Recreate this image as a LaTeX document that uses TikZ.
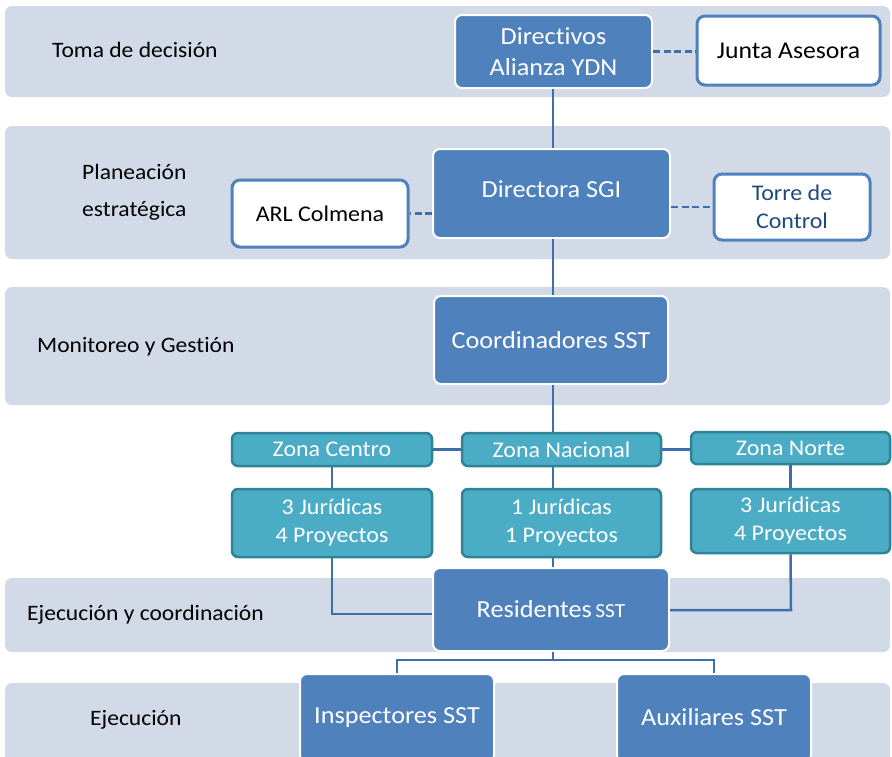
\documentclass[tikz,border=0pt]{standalone}
\usepackage{fontspec}
\setmainfont{Carlito}[FakeStretch=1.07, Ligatures=NoCommon]
\usetikzlibrary{calc}
\definecolor{band}{HTML}{D2D9E7}
\definecolor{dblue}{HTML}{4F81BD}
\definecolor{lblue}{HTML}{3F6FAA}
\definecolor{navy}{HTML}{1F497D}
\definecolor{teal}{HTML}{4BACC6}
\definecolor{tealb}{HTML}{2E8397}
\tikzset{
  bandbox/.style={fill=band, rounded corners=7pt, draw=none},
  bandlabel/.style={anchor=west, font=\fontsize{22}{37}\selectfont, align=left, inner sep=0pt},
  darkbox/.style={fill=dblue, draw=white, line width=2pt, rounded corners=7pt, text=white,
     font=\fontsize{24.5}{31}\selectfont, align=center, inner sep=0pt},
  whitebox/.style={fill=white, draw=dblue, line width=3pt, rounded corners=8pt, text=black,
     font=\fontsize{22.4}{28}\selectfont, align=center, inner sep=0pt},
  tealbox/.style={fill=teal, draw=tealb, line width=2.5pt, rounded corners=6pt, text=white,
     font=\fontsize{22.4}{28}\selectfont, align=center, inner sep=0pt},
  conn/.style={draw=lblue, line width=2.5pt},
  dconn/.style={draw=lblue, line width=2.5pt, dash pattern=on 7pt off 3.5pt},
}
\begin{document}
\begin{tikzpicture}[x=1pt, y=-1pt]
\useasboundingbox (0,0) rectangle (892,756);
\clip (0,0) rectangle (892,756);
% bands
\fill[bandbox] (5,6) rectangle (890,97);
\fill[bandbox] (5,126) rectangle (890,259);
\fill[bandbox] (5,287) rectangle (890,405);
\fill[bandbox] (5,578) rectangle (890,652);
\fill[bandbox] (5,683) rectangle (890,770);
% band labels
\node[bandlabel] (l1) at (52,50) {Toma de decisión};
\node[bandlabel] (l2) at (82,192) {Planeación\\estratégica};
\node[bandlabel] (l3) at (37,347) {Monitoreo y Gestión};
\node[bandlabel] (l4) at (27,615) {Ejecución y coordinación};
\node[bandlabel] (l5) at (90,720) {Ejecución};
% nodes
\node[darkbox, minimum width=197pt, minimum height=73pt] (dir) at (553.5,51.5) {Directivos\\Alianza YDN};
\node[whitebox, minimum width=183pt, minimum height=69pt, font=\fontsize{24}{30}\selectfont] (junta) at (788.5,50.5) {Junta Asesora};
\node[darkbox, minimum width=237pt, minimum height=89pt] (sgi) at (551.5,193.5) {\raisebox{8pt}{Directora SGI}};
\node[whitebox, minimum width=176pt, minimum height=67pt] (arl) at (320,213.5) {ARL Colmena};
\node[whitebox, minimum width=156pt, minimum height=66pt, text=navy] (torre) at (792,207) {Torre de\\Control};
\node[darkbox, minimum width=234pt, minimum height=88pt] (coord) at (551,340) {Coordinadores SST};
\node[tealbox, minimum width=200pt, minimum height=33pt] (zc) at (332,449.5) {Zona Centro};
\node[tealbox, minimum width=199pt, minimum height=33pt] (zn) at (561.5,449.5) {Zona Nacional};
\node[tealbox, minimum width=199pt, minimum height=32pt] (zno) at (790.5,448) {Zona Norte};
\node[tealbox, minimum width=200pt, minimum height=68pt] (jl) at (332,523) {3 Jurídicas\\4 Proyectos};
\node[tealbox, minimum width=199pt, minimum height=68pt] (jm) at (561.5,523) {1 Jurídicas\\1 Proyectos};
\node[tealbox, minimum width=199pt, minimum height=64pt] (jr) at (790.5,521) {3 Jurídicas\\4 Proyectos};
\node[darkbox, minimum width=236pt, minimum height=83pt] (res) at (551,609.5) {Residentes{\fontsize{20}{24}\selectfont\,SST}};
\node[darkbox, minimum width=194pt, minimum height=88pt] (insp) at (397,718) {\raisebox{2pt}{Inspectores SST}};
\node[darkbox, minimum width=194pt, minimum height=88pt] (aux) at (714,718) {\raisebox{2pt}{Auxiliares SST}};
% connectors
\path[conn] (553,0 |- dir.south) -- (553,0 |- sgi.north);
\path[dconn] (dir.east) -- (dir.east -| junta.west);
\path[dconn] (sgi.west |- arl.east) -- (arl.east);
\path[dconn] (sgi.east |- torre.west) -- (torre.west);
\path[conn] (553,0 |- sgi.south) -- (553,0 |- coord.north);
\path[conn] (553,0 |- coord.south) -- (553,0 |- zn.north);
\path[conn] (zc.east) -- (zn.west);
\path[conn] (zn.east) -- (zno.west |- zn.east);
\path[conn] (zc.south) -- (jl.north);
\path[conn] (zno.south) -- (jr.north);
\path[conn] (553,0 |- zn.south) -- (553,0 |- jm.north);
\path[conn] (553,0 |- jm.south) -- (553,0 |- res.north);
\coordinate (lc) at (332,614);
\coordinate (rc) at (791,610);
\path[conn] (jl.south) -- (lc) -- (lc -| res.west);
\path[conn] (jr.south) -- (rc) -- (rc -| res.east);
\coordinate (hb) at (553,660);
\path[conn] (553,0 |- res.south) -- (hb);
\path[conn] (insp.north) -- (insp.north |- hb) -- (aux.north |- hb) -- (aux.north);
\end{tikzpicture}
\end{document}
